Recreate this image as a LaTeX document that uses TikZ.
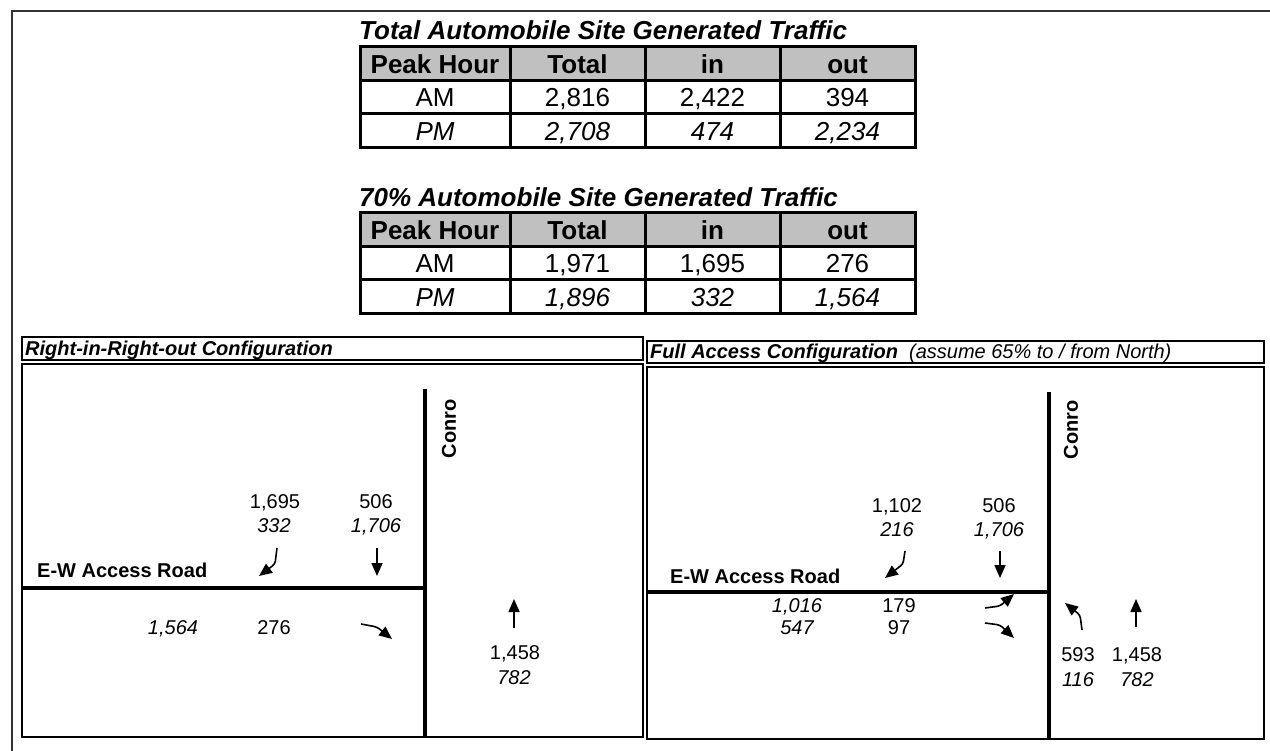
\documentclass[tikz,border=0pt]{standalone}
\usepackage{fontspec}
\setmainfont{Liberation Sans}
\usetikzlibrary{arrows.meta,positioning}
\definecolor{headgray}{HTML}{C0C0C0}

\begin{document}
\begin{tikzpicture}[x=1pt,y=-1pt]
        \tikzset{cell/.style={draw, rectangle, line width=3pt, outer sep=0pt, inner sep=0pt,
            minimum width=135pt, minimum height=33.5pt, text height=18.6pt, text depth=0pt,
            font=\fontsize{26}{30}\selectfont},
        first/.style={cell, minimum width=150pt},
        head/.style={fill=headgray, font=\fontsize{26}{30}\selectfont\bfseries},
        pm/.style={font=\fontsize{26}{30}\selectfont\itshape},
        title/.style={anchor=base west, inner sep=0pt, font=\fontsize{26}{30}\selectfont\bfseries\itshape},
        panel/.style={draw, line width=2pt},
        road/.style={line width=4pt},
        vol/.style={inner sep=0pt, text height=14.3pt, text depth=0pt, font=\fontsize{20}{24}\selectfont},
        volpm/.style={vol, font=\fontsize{20}{24}\selectfont\itshape},
        lbl/.style={inner sep=0pt, font=\fontsize{20}{24}\selectfont\bfseries},
        hdr/.style={anchor=west, inner sep=0pt, text height=14.3pt, text depth=0pt, font=\fontsize{20}{24}\selectfont\itshape},
        mvt/.style={line width=1.6pt, -{Triangle[length=13pt,width=11pt]}, rounded corners=3pt}
        }
        \useasboundingbox (0,0) rectangle (1270,751);
        \draw[line width=2pt, black!80] (12,751) -- (12,11) -- (1270,11);

%% table of all trips
        \node[title] (t1) at (359,40) {Total Automobile Site Generated Traffic};
        \node[first, head, anchor=north west] (t1ph) at (360,47) {Peak Hour};
        \node[cell, head, right=0pt of t1ph] (t1tot) {Total};
        \node[cell, head, right=0pt of t1tot] (t1in) {in};
        \node[cell, head, right=0pt of t1in] (t1out) {out};
        \node[first, below=0pt of t1ph] (t1am) {AM};
        \node[cell, below=0pt of t1tot] (t1amtot) {2,816};
        \node[cell, below=0pt of t1in] (t1amin) {2,422};
        \node[cell, below=0pt of t1out] (t1amout) {394};
        \node[first, pm, below=0pt of t1am] (t1pm) {PM};
        \node[cell, pm, below=0pt of t1amtot] (t1pmtot) {2,708};
        \node[cell, pm, below=0pt of t1amin] (t1pmin) {474};
        \node[cell, pm, below=0pt of t1amout] (t1pmout) {2,234};

%% table of 70% trips
        \node[title] (t2) at (359,207) {70\% Automobile Site Generated Traffic};
        \node[first, head, anchor=north west] (t2ph) at (360,213) {Peak Hour};
        \node[cell, head, right=0pt of t2ph] (t2tot) {Total};
        \node[cell, head, right=0pt of t2tot] (t2in) {in};
        \node[cell, head, right=0pt of t2in] (t2out) {out};
        \node[first, below=0pt of t2ph] (t2am) {AM};
        \node[cell, below=0pt of t2tot] (t2amtot) {1,971};
        \node[cell, below=0pt of t2in] (t2amin) {1,695};
        \node[cell, below=0pt of t2out] (t2amout) {276};
        \node[first, pm, below=0pt of t2am] (t2pm) {PM};
        \node[cell, pm, below=0pt of t2amtot] (t2pmtot) {1,896};
        \node[cell, pm, below=0pt of t2amin] (t2pmin) {332};
        \node[cell, pm, below=0pt of t2amout] (t2pmout) {1,564};

%% right-in-right-out
        \draw[panel] (22,337) rectangle (643,360);
        \draw[panel] (22,364) rectangle (643,737);
        \node[hdr, font=\fontsize{20}{24}\selectfont\bfseries\itshape] (lhd) at (25,348) {Right-in-Right-out Configuration};
        \draw[road] (22,588) -- (427,588);
        \draw[road] (425,389) -- (425,737);
        \node[lbl, rotate=90] (lconro) at (449,429) {Conro};
        \node[lbl, anchor=base west] (lew) at (37,577) {E-W Access Road};
        \node[vol] (l1695) at (275,501) {1,695};
        \node[volpm] (l332) at (274,525) {332};
        \node[vol] (l506) at (376,501) {506};
        \node[volpm] (l1706) at (376,525) {1,706};
        \node[volpm] (l1564) at (173,627) {1,564};
        \node[vol] (l276) at (274,627) {276};
        \node[vol] (l1458) at (515,652) {1,458};
        \node[volpm] (l782) at (514,677) {782};
        \draw[mvt] (277,548) -- (275,564) -- (259,576);
        \draw[mvt] (377,548) -- (377,576);
        \draw[mvt] (361,624) -- (377,627) -- (392,639);
        \draw[mvt] (514,628) -- (514,599);

%% full access
        \draw[panel] (647,341) rectangle (1264,363);
        \draw[panel] (647,367) rectangle (1264,739);
        \node[hdr] (rhd) at (650,351) {\bfseries Full Access Configuration\ \ \mdseries(assume 65\% to / from North)};
        \draw[road] (647,592) -- (1051,592);
        \draw[road] (1049,392) -- (1049,739);
        \node[lbl, rotate=90] (rconro) at (1071,430) {Conro};
        \node[lbl, anchor=base west] (rew) at (670,583) {E-W Access Road};
        \node[vol] (r1102) at (897,505) {1,102};
        \node[volpm] (r216) at (897,529) {216};
        \node[vol] (r506) at (999,505) {506};
        \node[volpm] (r1706) at (999,529) {1,706};
        \node[volpm] (r1016) at (797,605) {1,016};
        \node[volpm] (r547) at (797,627) {547};
        \node[vol] (r179) at (899,605) {179};
        \node[vol] (r97) at (899,627) {97};
        \node[vol] (r593) at (1078,654) {593};
        \node[volpm] (r116) at (1078,679) {116};
        \node[vol] (r1458) at (1137,654) {1,458};
        \node[volpm] (r782) at (1137,679) {782};
        \draw[mvt] (905,551) -- (903,564) -- (885,578);
        \draw[mvt] (1000,551) -- (1000,578);
        \draw[mvt] (985,608) -- (1000,606) -- (1014,594);
        \draw[mvt] (985,623) -- (1000,625) -- (1014,638);
        \draw[mvt] (1082,630) -- (1080,615) -- (1065,603);
        \draw[mvt] (1136,627) -- (1136,599);
    \end{tikzpicture}
\end{document}
